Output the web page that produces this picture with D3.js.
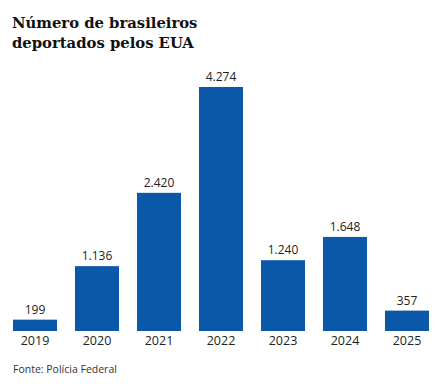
<!DOCTYPE html>
<html><head><meta charset="utf-8">
<script src="https://cdn.jsdelivr.net/npm/d3@7"></script>
<style>body{margin:0;background:#fff}svg{display:block}</style>
</head><body>
<script>
const years = ["2019","2020","2021","2022","2023","2024","2025"];
const values = [199,1136,2420,4274,1240,1648,357];
const valueLabels = ["199","1.136","2.420","4.274","1.240","1.648","357"];
const titleLines = ["Número de brasileiros","deportados pelos EUA"];
const source = "Fonte: Polícia Federal";

const W=436,H=384;
const svg=d3.select("body").append("svg").attr("width",W).attr("height",H);
const x=d3.scaleBand().domain(years).range([13,429]).paddingInner(0.29).paddingOuter(0);
const y=d3.scaleLinear().domain([0,4274]).range([331,87]);

svg.selectAll("text.title").data(titleLines).join("text")
  .attr("x",12).attr("y",(d,i)=>28+i*20)
  .attr("font-family","'DejaVu Serif', serif").attr("font-weight","bold")
  .attr("font-size",14.8).attr("fill","#111").text(d=>d);

svg.selectAll("rect.bar").data(values).join("rect")
  .attr("x",(d,i)=>x(years[i])).attr("width",x.bandwidth())
  .attr("y",d=>y(d)).attr("height",d=>y(0)-y(d)).attr("fill","#0b57a8");

svg.selectAll("text.val").data(values).join("text")
  .attr("x",(d,i)=>x(years[i])+x.bandwidth()/2).attr("y",d=>y(d)-6)
  .attr("text-anchor","middle").attr("font-family","'Open Sans', sans-serif")
  .attr("font-size",12).attr("fill","#222").text((d,i)=>valueLabels[i]);

const ax=svg.append("g").attr("transform","translate(0,331)").call(d3.axisBottom(x).tickSize(0).tickPadding(5));
ax.select(".domain").remove();
ax.selectAll("text").attr("font-family","'Open Sans', sans-serif").attr("font-size",12.5).attr("fill","#222");

svg.append("text").attr("x",13).attr("y",373).attr("font-family","'Open Sans', sans-serif")
  .attr("font-size",10.5).attr("fill","#333").text(source);
</script>
</body></html>
